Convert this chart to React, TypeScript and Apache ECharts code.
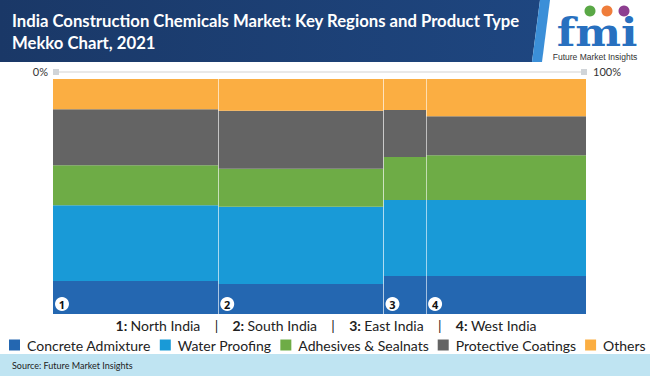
import React, { useEffect, useRef } from "react";
import * as echarts from "echarts";

const regions = ["North India", "South India", "East India", "West India"];
const regionShares = [31, 31, 8, 30];
const products = [
  "Concrete Admixture",
  "Water Proofing",
  "Adhesives & Sealnats",
  "Protective Coatings",
  "Others",
];
const concreteAdmixture = [14.0, 12.8, 16.2, 16.2];
const waterProofing = [32.3, 32.8, 32.3, 32.3];
const adhesivesSealants = [17.0, 16.2, 18.3, 19.1];
const protectiveCoatings = [23.8, 24.7, 20.0, 16.6];
const others = [12.9, 13.5, 13.2, 15.8];
const scaleLabels = ["0%", "100%"];

const productValues = [concreteAdmixture, waterProofing, adhesivesSealants, protectiveCoatings, others];
const colors = ["#2467b1", "#199ad7", "#6eac46", "#646464", "#fbae42"];

export default function App() {
  const ref = useRef<HTMLDivElement>(null);
  useEffect(() => {
    if (!ref.current) return;
    const chart = echarts.init(ref.current, undefined, { renderer: "svg" });

    const starts: number[] = [];
    let acc = 0;
    regionShares.forEach((s) => {
      starts.push(acc);
      acc += s;
    });

    const cum = regions.map(() => 0);
    const segSeries = products.map((name, pi) => {
      const data = regions.map((_, ri) => {
        const y0 = cum[ri];
        const y1 = y0 + productValues[pi][ri];
        cum[ri] = y1;
        return [starts[ri], starts[ri] + regionShares[ri], y0, y1];
      });
      return {
        type: "custom",
        name,
        itemStyle: { color: colors[pi] },
        encode: { x: [0, 1], y: [2, 3] },
        data,
        renderItem: (params: any, api: any) => {
          const tl = api.coord([api.value(0), api.value(3)]);
          const br = api.coord([api.value(1), api.value(2)]);
          return {
            type: "rect",
            shape: { x: tl[0], y: tl[1], width: br[0] - tl[0], height: br[1] - tl[1] },
            style: { fill: colors[pi] },
          };
        },
      };
    });

    const sepSeries = {
      type: "custom",
      name: "sep",
      encode: { x: 0 },
      data: starts.slice(1).map((s) => [s]),
      z: 5,
      renderItem: (params: any, api: any) => {
        const a = api.coord([api.value(0), 0]);
        const b = api.coord([api.value(0), 100]);
        return {
          type: "line",
          shape: { x1: Math.round(a[0]) + 0.5, y1: a[1], x2: Math.round(b[0]) + 0.5, y2: b[1] },
          style: { stroke: "rgba(255,255,255,0.55)", lineWidth: 1 },
        };
      },
    };

    const badgeSeries = {
      type: "custom",
      name: "badges",
      encode: { x: 0 },
      data: starts.map((s, i) => [s, i + 1]),
      z: 6,
      renderItem: (params: any, api: any) => {
        const p = api.coord([api.value(0), 0]);
        const cx = p[0] + 9;
        const cy = p[1] - 10;
        return {
          type: "group",
          children: [
            { type: "circle", shape: { cx, cy, r: 7 }, style: { fill: "#ffffff" } },
            {
              type: "text",
              x: cx,
              y: cy + 0.5,
              style: {
                text: String(api.value(1)),
                fill: "#111",
                font: "bold 11px 'Open Sans'",
                align: "center",
                verticalAlign: "middle",
              },
            },
          ],
        };
      },
    };

    const regionRich: any = {
      b: { fontFamily: "Lato", fontWeight: "bold", fontSize: 14, fill: "#222" },
      n: { fontFamily: "Lato", fontSize: 14, fill: "#222" },
    };
    const regionText = regions
      .map((r, i) => `{b|${i + 1}:} {n|${r}}`)
      .join("{n|    |    }");

    chart.setOption({
      animation: false,
      grid: { left: 53, right: 64, top: 79, bottom: 62 },
      xAxis: { type: "value", min: 0, max: 100, show: false },
      yAxis: { type: "value", min: 0, max: 100, show: false },
      legend: {
        data: products,
        left: 9,
        top: 338,
        padding: 0,
        icon: "rect",
        itemWidth: 11,
        itemHeight: 11,
        itemGap: 9,
        textStyle: { fontFamily: "Lato", fontSize: 14, color: "#222", padding: [0, 0, 0, 2] },
        selectedMode: false,
      },
      series: [...segSeries, sepSeries, badgeSeries],
      graphic: [
        {
          type: "polygon",
          shape: { points: [[0, 0], [540, 0], [532, 62], [0, 62]] },
          style: {
            fill: new echarts.graphic.LinearGradient(0, 0, 1, 0, [
              { offset: 0, color: "#1a3867" },
              { offset: 1, color: "#1e4680" },
            ]),
          },
        },
        {
          type: "polygon",
          shape: { points: [[540, 0], [550, 0], [542, 62], [532, 62]] },
          style: { fill: "#3b8fd8" },
        },
        {
          type: "text",
          x: 12,
          y: 21,
          style: {
            text: "India Construction Chemicals Market: Key Regions and Product Type",
            fill: "#ffffff",
            font: "bold 16.7px Lato",
            verticalAlign: "middle",
          },
        },
        {
          type: "text",
          x: 12,
          y: 43,
          style: {
            text: "Mekko Chart, 2021",
            fill: "#ffffff",
            font: "bold 16.7px Lato",
            verticalAlign: "middle",
          },
        },
        // logo
        { type: "circle", shape: { cx: 590, cy: 11, r: 5.5 }, style: { fill: "#5aa846" } },
        { type: "circle", shape: { cx: 607, cy: 11, r: 5.5 }, style: { fill: "#ef7d3b" } },
        { type: "circle", shape: { cx: 624, cy: 11, r: 5.5 }, style: { fill: "#8d3e90" } },
        {
          type: "text",
          x: 597,
          y: 32,
          scaleX: 1.08,
          style: {
            text: "fmi",
            fill: "#2870bf",
            font: "bold 40px 'DejaVu Serif'",
            align: "center",
            verticalAlign: "middle",
          },
        },
        {
          type: "text",
          x: 595,
          y: 56.5,
          style: {
            text: "Future Market Insights",
            fill: "#333",
            font: "8.5px 'Liberation Sans'",
            align: "center",
            verticalAlign: "middle",
          },
        },
        // top scale
        { type: "line", shape: { x1: 56, y1: 72, x2: 584, y2: 72 }, style: { stroke: "#e2e2e2", lineWidth: 1.5 } },
        { type: "rect", shape: { x: 53, y: 69, width: 6, height: 6 }, style: { fill: "#d0d4d8" } },
        { type: "rect", shape: { x: 581, y: 69, width: 6, height: 6 }, style: { fill: "#d0d4d8" } },
        {
          type: "text",
          x: 48,
          y: 71,
          style: { text: scaleLabels[0], fill: "#333", font: "11px Lato", align: "right", verticalAlign: "middle" },
        },
        {
          type: "text",
          x: 593,
          y: 71,
          style: { text: scaleLabels[1], fill: "#333", font: "11px Lato", align: "left", verticalAlign: "middle" },
        },
        // region key
        {
          type: "text",
          x: 326,
          y: 325,
          style: { text: regionText, rich: regionRich, align: "center", verticalAlign: "middle" },
        },
        // source band
        { type: "rect", shape: { x: 0, y: 354, width: 650, height: 22 }, style: { fill: "#bfe4f2" } },
        {
          type: "text",
          x: 12,
          y: 365,
          style: { text: "Source: Future Market Insights", fill: "#222", font: "9px Lato", verticalAlign: "middle" },
        },
      ],
    });
    return () => chart.dispose();
  }, []);
  return <div ref={ref} style={{ width: 650, height: 376, position: "absolute", left: 0, top: 0 }} />;
}
